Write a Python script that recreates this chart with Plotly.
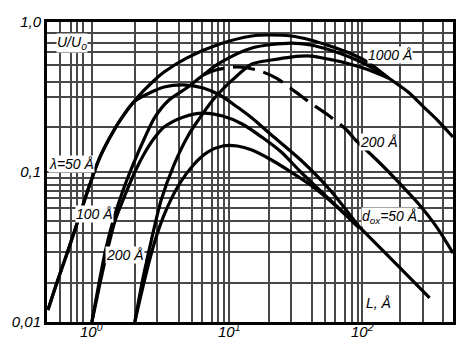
import math
import plotly.graph_objects as go

# ---- data (L in Å, U/U0) ----
L_50_1000 = [0.473, 0.550, 0.649, 0.766, 0.951, 1.123, 1.327, 1.620, 2.185, 2.756, 3.422, 5.016, 8.828,
             15.28, 20.27, 29.72, 41.43, 57.77, 80.55, 112.3, 156.6]
U_50_1000 = [0.0120, 0.0182, 0.0280, 0.0437, 0.0794, 0.1202, 0.1633, 0.222, 0.316, 0.392, 0.464, 0.575, 0.713,
             0.807, 0.819, 0.807, 0.759, 0.692, 0.621, 0.533, 0.423]

L_100_1000 = [1.0, 1.123, 1.262, 1.441, 1.702, 2.010, 2.455, 2.898, 3.719, 5.016, 6.656, 8.828, 15.28,
              29.72, 41.43, 57.77, 80.55, 112.3, 156.6]
U_100_1000 = [0.01, 0.0177, 0.0302, 0.0479, 0.0759, 0.1113, 0.1685, 0.229, 0.302, 0.363, 0.443, 0.533, 0.671,
              0.724, 0.703, 0.651, 0.584, 0.509, 0.423]

L_200_1000 = [2.078, 2.374, 2.756, 3.256, 4.043, 5.186, 6.124, 7.859, 10.96, 15.28, 21.31, 29.72, 41.43,
              60.72, 80.55, 106.9, 156.6]
U_200_1000 = [0.01, 0.0191, 0.0352, 0.0651, 0.1113, 0.1765, 0.222, 0.302, 0.411, 0.525, 0.558, 0.584, 0.593,
              0.558, 0.525, 0.486, 0.423]

L_1000_tail = [156.6, 218.5, 280.4, 359.7, 469.6]
U_1000_tail = [0.423, 0.341, 0.275, 0.222, 0.171]

L_50_50 = [0.473, 0.550, 0.649, 0.766, 0.951, 1.123, 1.327, 1.620, 2.078, 2.667, 3.422, 5.016, 6.656, 8.828,
           11.91, 15.28, 21.31, 35.08, 57.77, 95.13]
U_50_50 = [0.0120, 0.0182, 0.0280, 0.0437, 0.0794, 0.1202, 0.1633, 0.222, 0.297, 0.336, 0.369, 0.380, 0.363, 0.326,
           0.271, 0.229, 0.1765, 0.1202, 0.0759, 0.0430]

L_100_50 = [1.0, 1.142, 1.305, 1.490, 1.760, 2.078, 2.455, 2.898, 3.422, 4.772, 6.656, 9.280, 12.94, 18.05,
            25.16, 35.08, 57.77, 95.13]
U_100_50 = [0.01, 0.0177, 0.0302, 0.0479, 0.0703, 0.1, 0.1338, 0.1685, 0.1995, 0.233, 0.247, 0.236, 0.209, 0.171,
            0.136, 0.1, 0.0651, 0.0430]

L_200_50 = [2.078, 2.455, 2.898, 3.422, 4.391, 5.636, 7.233, 9.280, 11.91, 15.28, 21.31, 29.72, 41.43, 62.8, 95.13]
U_200_50 = [0.01, 0.0191, 0.0336, 0.0517, 0.0819, 0.1113, 0.136, 0.149, 0.149, 0.140, 0.1202, 0.1, 0.0819,
            0.0603, 0.0423]

L_50_tail = [95.13, 185.0, 315.0]
U_50_tail = [0.0430, 0.0236, 0.0145]

L_200_dash = [6.656, 8.260, 11.91, 16.61, 23.15, 32.28, 41.43, 55.89, 76.64, 87.53]
U_200_dash = [0.443, 0.479, 0.501, 0.479, 0.423, 0.341, 0.288, 0.240, 0.1905, 0.166]

L_200_tail = [87.53, 132.7, 185.0, 258.0, 359.7, 469.6]
U_200_tail = [0.166, 0.1166, 0.0858, 0.0621, 0.0423, 0.0288]

# grid lines (as drawn on the original sheet)
x_grid = [0.58, 0.705, 0.78, 0.865, 1.0, 2.08, 3.05, 4.39, 5.54, 6.55, 7.73, 8.54, 9.43, 10.4,
          20.3, 29.7, 42.2, 53.2, 62.8, 74.2, 84.3, 92.5, 100, 190, 280, 397]
x_tick_vals = [1.0, 10.4, 100]
x_tick_text = ["10<sup>0</sup>", "10<sup>1</sup>", "10<sup>2</sup>"]
y_grid = [1.0, 0.845, 0.724, 0.631, 0.517, 0.398, 0.316, 0.1995, 0.1, 0.0912, 0.0819, 0.0747, 0.0671,
          0.0575, 0.0471, 0.0392, 0.0293, 0.0182, 0.01]
y_labels = {1.0: "<i>1,0</i>", 0.1: "<i>0,1</i>", 0.01: "<i>0,01</i>"}

FONT = "Liberation Sans, Arial, sans-serif"

fig = go.Figure()

solid = dict(color="black", width=3.2)
for xs, ys in [(L_50_1000, U_50_1000), (L_100_1000, U_100_1000), (L_200_1000, U_200_1000),
               (L_1000_tail, U_1000_tail), (L_50_50, U_50_50), (L_100_50, U_100_50),
               (L_200_50, U_200_50), (L_50_tail, U_50_tail), (L_200_tail, U_200_tail)]:
    fig.add_trace(go.Scatter(x=xs, y=ys, mode="lines", line=dict(solid, shape="spline", smoothing=0.8),
                             showlegend=False, hoverinfo="skip"))
fig.add_trace(go.Scatter(x=L_200_dash, y=U_200_dash, mode="lines",
                         line=dict(color="black", width=3.2, dash="22px,9px", shape="spline", smoothing=0.8),
                         showlegend=False, hoverinfo="skip"))

labels = [
    ("U/U<sub>0</sub>", 0.062, 0.930),
    ("1000 Å", 0.844, 0.89),
    ("200 Å", 0.817, 0.60),
    ("d<sub>ox</sub>=50 Å", 0.843, 0.35),
    ("λ=50 Å", 0.060, 0.527),
    ("100 Å", 0.118, 0.36),
    ("200 Å", 0.192, 0.225),
    ("L, Å", 0.817, 0.0633),
]
for t, x, y in labels:
    fig.add_annotation(text=f"<i>{t}</i>", x=x, y=y, xref="paper", yref="paper", showarrow=False,
                       font=dict(family=FONT, size=14, color="black"), bgcolor="white", borderpad=0,
                       xanchor="center", yanchor="middle")

# decade labels of the L axis
for v, t in zip(x_tick_vals, x_tick_text):
    fig.add_annotation(text=f"<i>{t}</i>", x=math.log10(v), y=-0.068, xref="x", yref="paper",
                       showarrow=False, font=dict(family=FONT, size=15, color="black"),
                       xanchor="center", yanchor="bottom")

fig.update_xaxes(type="log", range=[-0.332, 2.6715], tickmode="array", tickvals=x_grid,
                 ticktext=["" for v in x_grid], showgrid=True, gridcolor="#484848",
                 gridwidth=1.5, showline=True, linecolor="black", linewidth=3, mirror=True, ticks="",
                 zeroline=False)
fig.update_yaxes(type="log", range=[-2, 0], tickmode="array", tickvals=y_grid,
                 ticktext=[y_labels.get(v, "") for v in y_grid], showgrid=True, gridcolor="#484848",
                 gridwidth=1.5, showline=True, linecolor="black", linewidth=3, mirror=True, ticks="",
                 tickfont=dict(family=FONT, size=15, color="black"), zeroline=False)

fig.update_layout(width=468, height=347, margin=dict(l=40, r=12, t=22, b=25),
                  paper_bgcolor="white", plot_bgcolor="white")

fig.write_html("out.html")
